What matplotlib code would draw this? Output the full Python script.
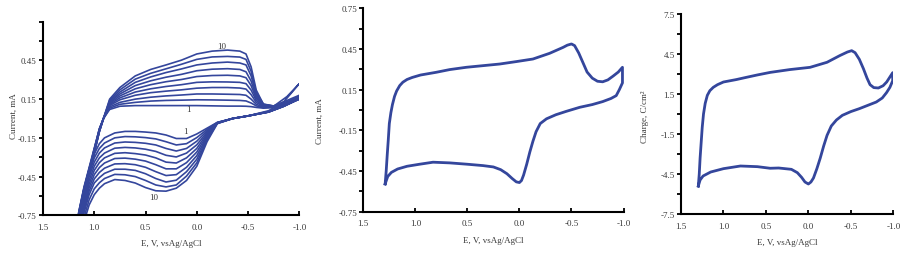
#!/usr/bin/python
'''
cv_panels.py

goal: three cyclic voltammogram panels (current vs E, charge vs E)
'''

import matplotlib
matplotlib.use("Agg")
import matplotlib.pyplot as plt
from matplotlib.ticker import MultipleLocator

# /=========================================================================
# globals

W, H = 916, 255
BLUE = "#34469c"
TXT = "#3a3a3a"

plt.rcParams['font.family'] = ['Liberation Serif', 'DejaVu Serif']

# panel 1 : ten growing cycles, upper (anodic) branch read at E_up1
E_up1 = [1.20, 1.15, 1.10, 1.02, 0.95, 0.91, 0.85, 0.75, 0.60, 0.45, 0.30, 0.15,
         0.00, -0.15, -0.30, -0.42, -0.48, -0.53, -0.58, -0.65, -0.75, -0.88, -1.00]

I_up1 = [
    [-1.00, -0.72, -0.53, -0.29, -0.08, 0.00, 0.070, 0.095, 0.100, 0.100, 0.100, 0.100,
     0.100, 0.098, 0.096, 0.096, 0.095, 0.092, 0.086, 0.080, 0.085, 0.110, 0.150],
    [-1.00, -0.72, -0.54, -0.30, -0.08, 0.00, 0.080, 0.110, 0.125, 0.135, 0.140, 0.142,
     0.145, 0.144, 0.142, 0.140, 0.136, 0.120, 0.098, 0.084, 0.087, 0.112, 0.152],
    [-1.00, -0.73, -0.54, -0.30, -0.08, 0.00, 0.090, 0.125, 0.150, 0.165, 0.175, 0.182,
     0.190, 0.190, 0.188, 0.186, 0.180, 0.150, 0.110, 0.088, 0.089, 0.114, 0.155],
    [-1.00, -0.73, -0.55, -0.31, -0.09, 0.00, 0.100, 0.145, 0.180, 0.200, 0.212, 0.222,
     0.235, 0.240, 0.240, 0.236, 0.228, 0.185, 0.125, 0.092, 0.091, 0.116, 0.157],
    [-1.00, -0.74, -0.55, -0.31, -0.09, 0.00, 0.108, 0.160, 0.205, 0.230, 0.248, 0.262,
     0.280, 0.284, 0.283, 0.280, 0.270, 0.220, 0.140, 0.096, 0.093, 0.118, 0.160],
    [-1.00, -0.74, -0.56, -0.32, -0.09, 0.00, 0.116, 0.175, 0.230, 0.262, 0.285, 0.302,
     0.325, 0.333, 0.335, 0.330, 0.316, 0.255, 0.155, 0.100, 0.094, 0.120, 0.163],
    [-1.00, -0.75, -0.56, -0.32, -0.10, 0.00, 0.124, 0.190, 0.255, 0.292, 0.320, 0.342,
     0.370, 0.382, 0.386, 0.380, 0.362, 0.290, 0.170, 0.104, 0.096, 0.125, 0.168],
    [-1.00, -0.75, -0.57, -0.33, -0.10, 0.00, 0.132, 0.205, 0.280, 0.322, 0.356, 0.384,
     0.415, 0.430, 0.437, 0.430, 0.415, 0.330, 0.185, 0.108, 0.097, 0.130, 0.172],
    [-1.00, -0.76, -0.57, -0.33, -0.10, 0.00, 0.141, 0.222, 0.305, 0.350, 0.385, 0.420,
     0.458, 0.477, 0.481, 0.476, 0.458, 0.365, 0.200, 0.112, 0.097, 0.140, 0.180],
    [-1.00, -0.76, -0.58, -0.34, -0.10, 0.00, 0.150, 0.240, 0.330, 0.380, 0.415, 0.452,
     0.500, 0.522, 0.530, 0.522, 0.500, 0.400, 0.220, 0.110, 0.095, 0.170, 0.270],
]

# panel 1 : lower (cathodic) branch read at E_lo1
E_lo1 = [-1.00, -0.85, -0.70, -0.50, -0.35, -0.20, -0.10, 0.00, 0.10, 0.20, 0.30, 0.40,
         0.50, 0.60, 0.70, 0.80, 0.90, 0.95, 1.00, 1.05, 1.10, 1.15, 1.20]

I_lo1 = [
    [0.150, 0.095, 0.050, 0.020, 0.000, -0.030, -0.075, -0.120, -0.155, -0.155, -0.128, -0.112,
     -0.105, -0.100, -0.100, -0.112, -0.150, -0.195, -0.275, -0.400, -0.570, -0.760, -1.00],
    [0.152, 0.095, 0.050, 0.020, 0.000, -0.031, -0.085, -0.148, -0.195, -0.205, -0.180, -0.158,
     -0.148, -0.142, -0.140, -0.150, -0.190, -0.232, -0.305, -0.425, -0.595, -0.780, -1.00],
    [0.155, 0.095, 0.050, 0.020, 0.000, -0.032, -0.095, -0.176, -0.232, -0.252, -0.232, -0.205,
     -0.192, -0.185, -0.182, -0.190, -0.228, -0.268, -0.338, -0.452, -0.618, -0.800, -1.00],
    [0.157, 0.096, 0.051, 0.020, 0.000, -0.033, -0.106, -0.204, -0.268, -0.298, -0.285, -0.255,
     -0.238, -0.228, -0.224, -0.230, -0.268, -0.305, -0.370, -0.480, -0.640, -0.820, -1.00],
    [0.160, 0.097, 0.051, 0.020, 0.000, -0.034, -0.117, -0.232, -0.305, -0.345, -0.338, -0.305,
     -0.283, -0.272, -0.265, -0.270, -0.305, -0.342, -0.402, -0.508, -0.662, -0.840, -1.00],
    [0.163, 0.098, 0.052, 0.020, 0.000, -0.035, -0.128, -0.260, -0.342, -0.390, -0.390, -0.358,
     -0.330, -0.315, -0.307, -0.310, -0.345, -0.380, -0.435, -0.535, -0.685, -0.860, -1.00],
    [0.168, 0.099, 0.053, 0.020, 0.000, -0.036, -0.140, -0.288, -0.378, -0.435, -0.442, -0.412,
     -0.378, -0.358, -0.350, -0.352, -0.385, -0.418, -0.468, -0.562, -0.708, -0.880, -1.00],
    [0.172, 0.100, 0.054, 0.020, 0.000, -0.037, -0.152, -0.316, -0.412, -0.478, -0.492, -0.465,
     -0.428, -0.402, -0.393, -0.393, -0.425, -0.458, -0.500, -0.590, -0.730, -0.895, -1.00],
    [0.180, 0.102, 0.055, 0.020, 0.000, -0.038, -0.165, -0.344, -0.446, -0.515, -0.530, -0.515,
     -0.480, -0.450, -0.436, -0.433, -0.465, -0.498, -0.545, -0.630, -0.765, -0.910, -1.00],
    [0.270, 0.130, 0.060, 0.020, 0.000, -0.040, -0.180, -0.370, -0.480, -0.540, -0.563, -0.560,
     -0.535, -0.500, -0.480, -0.473, -0.505, -0.540, -0.590, -0.670, -0.800, -0.920, -1.00],
]

# panel 2 : single stable loop, current in mA
E_up2 = [1.29, 1.28, 1.27, 1.26, 1.25, 1.235, 1.22, 1.20, 1.18, 1.15, 1.12, 1.08, 1.03, 0.95,
         0.80, 0.67, 0.51, 0.35, 0.19, 0.03, -0.13, -0.29, -0.42, -0.46, -0.50, -0.53, -0.57,
         -0.61, -0.65, -0.70, -0.75, -0.80, -0.85, -0.90, -0.95, -0.99]
I_up2 = [-0.545, -0.45, -0.33, -0.22, -0.10, -0.02, 0.04, 0.10, 0.14, 0.18, 0.205, 0.225, 0.24,
         0.258, 0.278, 0.298, 0.315, 0.327, 0.339, 0.357, 0.376, 0.418, 0.462, 0.478, 0.487,
         0.475, 0.42, 0.35, 0.28, 0.235, 0.212, 0.208, 0.222, 0.25, 0.28, 0.315]
E_lo2 = [-0.99, -0.96, -0.93, -0.88, -0.80, -0.70, -0.58, -0.45, -0.35, -0.26, -0.20, -0.16,
         -0.13, -0.10, -0.07, -0.04, -0.02, 0.00, 0.03, 0.07, 0.12, 0.18, 0.25, 0.35, 0.50,
         0.67, 0.83, 0.96, 1.08, 1.17, 1.23, 1.265, 1.29]
I_lo2 = [0.20, 0.15, 0.106, 0.085, 0.062, 0.04, 0.02, -0.01, -0.035, -0.065, -0.10, -0.16,
         -0.23, -0.31, -0.40, -0.48, -0.52, -0.535, -0.53, -0.505, -0.47, -0.44, -0.42, -0.41,
         -0.40, -0.39, -0.385, -0.40, -0.415, -0.435, -0.46, -0.49, -0.545]

# panel 3 : same loop as charge density, C/cm2
E_up3 = [1.296, 1.285, 1.275, 1.262, 1.25, 1.235, 1.215, 1.19, 1.16, 1.12, 1.07, 1.00, 0.85,
         0.73, 0.60, 0.45, 0.22, -0.02, -0.22, -0.37, -0.46, -0.51, -0.55, -0.60, -0.648,
         -0.69, -0.726, -0.77, -0.824, -0.88, -0.922, -0.993]
Q_up3 = [-5.4, -4.5, -3.3, -2.1, -1.0, 0.0, 0.8, 1.4, 1.75, 2.0, 2.2, 2.4, 2.58,
         2.75, 2.93, 3.12, 3.33, 3.5, 3.88, 4.38, 4.65, 4.75, 4.6, 4.1, 3.4,
         2.7, 2.2, 1.98, 1.95, 2.12, 2.4, 3.1]
E_lo3 = [-0.993, -0.96, -0.92, -0.87, -0.80, -0.70, -0.60, -0.50, -0.40, -0.33, -0.27, -0.22,
         -0.18, -0.14, -0.10, -0.06, -0.03, 0.00, 0.04, 0.08, 0.13, 0.20, 0.35, 0.45, 0.60,
         0.80, 1.00, 1.15, 1.24, 1.275, 1.296]
Q_lo3 = [2.5, 2.0, 1.6, 1.2, 0.9, 0.65, 0.4, 0.18, -0.1, -0.45, -0.9, -1.6,
         -2.4, -3.3, -4.1, -4.8, -5.1, -5.25, -5.1, -4.75, -4.4, -4.15, -4.05, -4.07, -3.95,
         -3.9, -4.1, -4.35, -4.65, -4.95, -5.4]

XTICKS = [1.5, 1.0, 0.5, 0.0, -0.5, -1.0]
XTICKLABELS = ["1.5", "1.0", "0.5", "0.0", "-0.5", "-1.0"]
XLABEL = "E, V, vsAg/AgCl"

# =========================================================================/


def panel(fig, left, right, top, bottom):
    # axes box given in image pixels
    ax = fig.add_axes([left / W, 1 - bottom / H, (right - left) / W, (bottom - top) / H])
    for s in ["top", "right"]:
        ax.spines[s].set_visible(False)
    for s in ["left", "bottom"]:
        ax.spines[s].set_linewidth(1.5)
    ax.set_xlim(1.5, -1.0)
    ax.set_xticks(XTICKS)
    ax.set_xticklabels(XTICKLABELS)
    ax.tick_params(axis="x", direction="in", length=3, width=1.3, pad=5.5,
                   labelsize=6.5, labelcolor=TXT)
    ax.tick_params(axis="y", which="both", direction="out", length=3, width=1.3,
                   pad=1.5, labelsize=6.5, labelcolor=TXT)
    ax.set_xlabel(XLABEL, fontsize=6.5, color=TXT, labelpad=6)
    return ax


if __name__ == "__main__":
    fig = plt.figure(figsize=(W / 100, H / 100), dpi=100)

    # ---- panel 1
    ax1 = panel(fig, 43, 299.3, 22.7, 216.3)
    for up, lo in zip(I_up1, I_lo1):
        ax1.plot(E_up1 + E_lo1, up + lo, color=BLUE, lw=1.2)
    ax1.set_ylim(-0.75, 0.75)
    ax1.set_yticks([0.45, 0.15, -0.15, -0.45, -0.75])
    ax1.set_yticklabels(["0.45", "0.15", "-0.15", "-0.45", "-0.75"])
    ax1.yaxis.set_minor_locator(MultipleLocator(0.15))
    ax1.set_ylabel("Current, mA", fontsize=6.5, color=TXT)
    ax1.yaxis.set_label_coords(-0.10, 0.52)
    ax1.text(-0.24, 0.565, "10", fontsize=6.5, color=TXT, ha="center", va="center")
    ax1.text(0.08, 0.075, "1", fontsize=6.5, color=TXT, ha="center", va="center")
    ax1.text(0.11, -0.10, "1", fontsize=6.5, color=TXT, ha="center", va="center")
    ax1.text(0.42, -0.61, "10", fontsize=6.5, color=TXT, ha="center", va="center")

    # ---- panel 2
    ax2 = panel(fig, 363.3, 623.5, 9.3, 212.7)
    ax2.plot(E_up2 + E_lo2, I_up2 + I_lo2, color=BLUE, lw=2.0)
    ax2.set_ylim(-0.75, 0.75)
    ax2.set_yticks([0.75, 0.45, 0.15, -0.15, -0.45, -0.75])
    ax2.set_yticklabels(["0.75", "0.45", "0.15", "-0.15", "-0.45", "-0.75"])
    ax2.yaxis.set_minor_locator(MultipleLocator(0.15))
    ax2.set_ylabel("Current, mA", fontsize=6.5, color=TXT)
    ax2.yaxis.set_label_coords(-0.151, 0.45)

    # ---- panel 3
    ax3 = panel(fig, 681, 893.3, 15, 215)
    ax3.plot(E_up3 + E_lo3, Q_up3 + Q_lo3, color=BLUE, lw=2.0)
    ax3.set_ylim(-7.5, 7.5)
    ax3.set_yticks([7.5, 4.5, 1.5, -1.5, -4.5, -7.5])
    ax3.set_yticklabels(["7.5", "4.5", "1.5", "-1.5", "-4.5", "-7.5"])
    ax3.yaxis.set_minor_locator(MultipleLocator(1.5))
    ax3.set_ylabel("Charge, C/cm²", fontsize=6.5, color=TXT)
    ax3.yaxis.set_label_coords(-0.151, 0.49)

    fig.savefig("out.png", dpi=100)
